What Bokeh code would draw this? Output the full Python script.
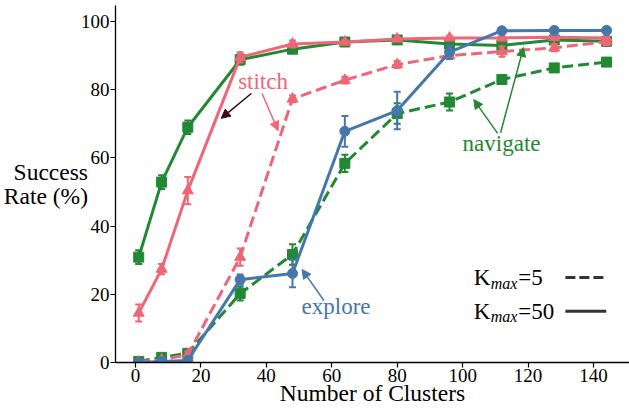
from bokeh.plotting import figure
from bokeh.models import Range1d, Label, Arrow, NormalHead, FixedTicker
from bokeh.embed import file_html
from bokeh.resources import INLINE

# ---------------- data ----------------
clusters = [1, 8, 16, 32, 48, 64, 80, 96, 112, 128, 144]

nav_k50 = [30.9, 52.9, 69.0, 88.8, 91.9, 94.0, 94.6, 93.4, 93.0, 94.6, 94.2]
nav_k50_err = [2.0, 2.0, 2.0, 1.5, 1.0, 1.0, 1.0, 1.0, 1.0, 1.0, 1.0]
nav_k5 = [0.3, 1.5, 2.7, 20.2, 31.7, 58.4, 73.0, 76.4, 83.0, 86.4, 88.1]
nav_k5_err = [0.5, 0.5, 1.0, 2.0, 3.0, 2.5, 3.0, 2.5, 1.0, 1.0, 1.0]

stitch_k50 = [14.5, 27.4, 50.4, 89.5, 93.4, 94.0, 94.9, 95.2, 95.2, 95.4, 95.2]
stitch_k50_err = [2.5, 1.5, 4.0, 1.5, 1.0, 0.5, 0.5, 0.5, 0.5, 0.5, 0.5]
stitch_k5 = [0.2, 0.8, 2.3, 30.9, 77.3, 82.8, 87.4, 90.0, 91.2, 92.3, 94.1]
stitch_k5_err = [0.5, 0.5, 1.0, 2.5, 1.0, 1.0, 1.0, 1.0, 1.5, 1.0, 1.0]

explore_k50 = [0.0, 0.3, 0.6, 24.3, 26.1, 67.8, 73.9, 91.0, 97.3, 97.4, 97.4]
explore_k50_err = [0.3, 0.3, 0.5, 1.5, 4.0, 4.5, 5.5, 2.0, 0.5, 0.5, 0.5]

x_ticks = [0, 20, 40, 60, 80, 100, 120, 140]
y_ticks = [0, 20, 40, 60, 80, 100]

x_title = "Number of Clusters"
y_title = "Success\nRate (%)"

legend_labels = ["=5", "=50"]
legend_dashes = ["10 4", "solid"]

GREEN = "#228833"
PINK = "#EE6677"
BLUE = "#4477AA"
FONT = "'Liberation Serif', 'Times New Roman', serif"

p = figure(width=629, height=408, output_backend="svg", toolbar_location=None,
           x_range=Range1d(-6.1, 151.0), y_range=Range1d(0, 104.7),
           min_border_left=114, min_border_right=0, min_border_top=5,
           min_border_bottom=46)
p.outline_line_color = None
p.xgrid.visible = False
p.ygrid.visible = False
p.background_fill_color = "white"

for ax in (p.xaxis, p.yaxis):
    ax.axis_line_width = 1.3
    ax.axis_line_color = "black"
    ax.major_tick_line_color = "black"
    ax.major_tick_line_width = 1.2
    ax.major_tick_out = 5
    ax.major_tick_in = 0
    ax.minor_tick_line_color = None
    ax.major_label_text_font = FONT
    ax.major_label_text_font_size = "19px"
    ax.major_label_text_color = "black"
    ax.major_label_standoff = 1
    ax.axis_label_text_font = FONT
    ax.axis_label_text_font_size = "23.5px"
    ax.axis_label_text_font_style = "normal"
    ax.axis_label_text_color = "black"

p.xaxis.ticker = FixedTicker(ticks=x_ticks)
p.yaxis.ticker = FixedTicker(ticks=y_ticks)
p.xaxis.axis_label = x_title
p.xaxis.axis_label_standoff = -5
p.yaxis.axis_label = y_title
p.yaxis.axis_label_orientation = "horizontal"
p.yaxis.axis_label_standoff = -10
p.yaxis.axis_label_text_line_height = 0.9


def draw(ys, errs, color, marker, size, dash):
    lo = [y - e for y, e in zip(ys, errs)]
    hi = [y + e for y, e in zip(ys, errs)]
    p.line(clusters, ys, line_color=color, line_width=3, line_dash=dash)
    p.segment(x0=clusters, y0=lo, x1=clusters, y1=hi, line_color=color, line_width=2)
    p.scatter(clusters, lo, marker="dash", size=7, line_color=color, line_width=2)
    p.scatter(clusters, hi, marker="dash", size=7, line_color=color, line_width=2)
    p.scatter(clusters, ys, marker=marker, size=size, fill_color=color,
              line_color=color, line_width=1)


draw(nav_k5, nav_k5_err, GREEN, "square", 10, "11 5")
draw(nav_k50, nav_k50_err, GREEN, "square", 10, "solid")
draw(stitch_k5, stitch_k5_err, PINK, "triangle", 11, "11 5")
draw(stitch_k50, stitch_k50_err, PINK, "triangle", 11, "solid")
draw(explore_k50, explore_k50_err, BLUE, "circle", 10, "solid")


def note(x, y, text, color):
    p.add_layout(Label(x=x, y=y, text=text, text_color=color, text_font=FONT,
                       text_font_size="23px", text_align="center",
                       text_baseline="middle"))


def arrow(x0, y0, x1, y1, color):
    p.add_layout(Arrow(x_start=x0, y_start=y0, x_end=x1, y_end=y1,
                       line_color=color, line_width=1.5,
                       end=NormalHead(size=9, fill_color=color, line_color=color,
                                      line_width=1)))


note(39.0, 82.4, "stitch", PINK)
arrow(35.4, 78.9, 26.2, 71.6, "#3a0a0a")
arrow(38.7, 78.9, 43.6, 68.0, PINK)

note(61.3, 16.4, "explore", BLUE)
arrow(57.6, 18.2, 50.9, 27.3, BLUE)

note(111.9, 64.2, "navigate", GREEN)
arrow(110.7, 67.2, 103.4, 77.1, GREEN)
arrow(111.6, 67.4, 118.6, 92.4, GREEN)

# legend (K_max)
legend_y = [24.9, 15.0]
for lab, dash, ly in zip(legend_labels, legend_dashes, legend_y):
    p.add_layout(Label(x=103.4, y=ly, text="K", text_font=FONT,
                       text_font_size="23px", text_baseline="middle",
                       text_align="left", text_color="black"))
    p.add_layout(Label(x=108.6, y=ly - 1.6, text="max", text_font=FONT,
                       text_font_size="16px", text_font_style="italic",
                       text_baseline="middle", text_align="left",
                       text_color="black"))
    p.add_layout(Label(x=117.0, y=ly, text=lab, text_font=FONT,
                       text_font_size="23px", text_baseline="middle",
                       text_align="left", text_color="black"))
    p.line([131.4, 143.9], [ly, ly], line_color="#333333", line_width=3,
           line_dash=dash)

open("out.html", "w").write(file_html(p, INLINE))
